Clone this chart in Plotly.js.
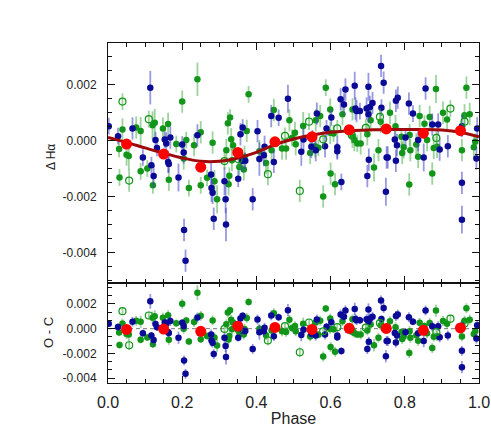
<!DOCTYPE html>
<html><head><meta charset="utf-8">
<script src="https://cdn.plot.ly/plotly-3.0.1.min.js"></script>
<style>html,body{margin:0;padding:0;background:#fff}#chart{width:491px;height:427px}</style>
</head><body><div id="chart"></div>
<script>
// Blue series (phase, delta H-alpha, error)
const bluePhase = [0.002,0.027,0.066,0.094,0.114,0.117,0.123,0.128,0.132,0.153,0.157,0.162,0.164,0.168,0.19,0.2,0.204,0.205,0.209,0.241,0.278,0.279,0.282,0.285,0.314,0.317,0.318,0.351,0.357,0.363,0.361,0.37,0.39,0.403,0.408,0.42,0.422,0.44,0.447,0.46,0.485,0.521,0.527,0.548,0.551,0.56,0.563,0.585,0.589,0.602,0.618,0.618,0.627,0.629,0.636,0.64,0.665,0.667,0.67,0.679,0.697,0.699,0.702,0.702,0.703,0.706,0.713,0.736,0.737,0.743,0.749,0.751,0.754,0.773,0.776,0.776,0.779,0.781,0.802,0.811,0.822,0.836,0.851,0.856,0.874,0.89,0.894,0.916,0.954,0.954,0.954,0.993,0.995];
const blueVal = [0.00052,0.00016,0.00044,-0.0006,0.0019,-0.00088,-0.00127,0.00002,-0.00026,0.00004,-0.0001,-0.00076,-0.00084,0.00011,-0.00132,-0.00014,-0.00042,-0.0032,-0.0043,0.00019,-0.00121,-0.0017,-0.00187,-0.0028,-0.00145,-0.0021,-0.003,-0.00136,0.00023,0.00047,-0.00072,-0.00072,-0.0021,0.00034,-0.00066,-0.00052,-0.00022,0.00088,-0.00076,0.00082,0.0015,-0.0004,0.00004,-0.00022,0.00008,-0.00034,0.00097,-0.0002,0.00044,0.00083,-0.00024,-0.00038,0.00148,-0.00148,0.0013,0.00183,0.00197,0.00115,0.00106,0.00106,0.00115,-0.00127,0.00193,0.00095,-0.00068,0.00121,0.00135,0.00268,0.00118,0.00208,-0.00183,-0.0006,-0.0006,0.00004,0.00143,-0.00072,-0.00016,0.00154,0.00011,0.00133,0.00097,0.00002,-0.0006,0.00187,0.00058,0.00058,-0.00032,-0.0002,0.00052,-0.00151,-0.00283,-0.00064,0.00044];
const blueErr = [0.0003,0.0003,0.0004,0.0003,0.0006,0.0003,0.0004,0.0003,0.0003,0.0003,0.0004,0.0004,0.0003,0.0004,0.0005,0.0003,0.0004,0.0004,0.0004,0.0004,0.0004,0.0005,0.0004,0.0004,0.0005,0.0005,0.0006,0.0003,0.0004,0.0003,0.0004,0.0003,0.0004,0.0004,0.0006,0.0004,0.0004,0.0004,0.0004,0.0003,0.0005,0.0005,0.0004,0.0004,0.0003,0.0004,0.0004,0.0004,0.0003,0.0003,0.0004,0.0003,0.0004,0.0003,0.0004,0.0004,0.0005,0.0004,0.0004,0.0003,0.0004,0.0004,0.0005,0.0003,0.0004,0.0004,0.0004,0.0004,0.0003,0.0004,0.0005,0.0004,0.0004,0.0003,0.0004,0.0004,0.0004,0.0004,0.0003,0.0004,0.0003,0.0004,0.0005,0.0004,0.0004,0.0004,0.0004,0.0004,0.0004,0.0004,0.0005,0.0004,0.0004];

// Green filled series
const greenPhase = [0.03,0.031,0.039,0.05,0.056,0.076,0.088,0.088,0.106,0.12,0.121,0.126,0.148,0.162,0.164,0.184,0.2,0.204,0.211,0.218,0.232,0.241,0.25,0.25,0.267,0.282,0.287,0.294,0.319,0.323,0.325,0.327,0.329,0.332,0.334,0.337,0.354,0.366,0.368,0.374,0.379,0.408,0.426,0.441,0.447,0.469,0.48,0.489,0.496,0.504,0.506,0.526,0.545,0.558,0.56,0.567,0.572,0.58,0.587,0.599,0.599,0.6,0.608,0.612,0.632,0.659,0.659,0.664,0.672,0.681,0.699,0.708,0.717,0.729,0.735,0.76,0.775,0.791,0.793,0.797,0.812,0.813,0.815,0.831,0.836,0.84,0.853,0.86,0.867,0.874,0.878,0.884,0.887,0.903,0.914,0.954,0.961,0.966,0.975,0.986,0.99];
const greenVal = [-0.0003,-0.00132,0.0004,-0.0005,-0.00055,0.00047,0.00035,-0.0011,-0.001,0.00055,-0.0016,0.00064,0.00044,0.0006,-0.0014,-0.00012,0.0014,-0.00064,0.00002,-0.0017,-0.00016,0.0022,0.0003,-0.0016,-0.00133,-0.00007,-0.00145,-0.0021,-0.00034,0.00062,-0.00156,-0.00126,0.00083,0.00005,-0.0007,-0.00016,-0.00094,-0.00103,-0.00058,0.00035,0.00166,-0.00038,-0.0008,-0.00034,0.0011,-0.00028,-0.00028,0.00073,0.0001,0.00028,-0.00013,0.00053,-0.00044,-0.0002,0.00073,-0.00025,0.00088,-0.002,0.0019,0.00112,0.00028,-0.00118,0.00026,-0.00156,0.00095,0.00112,0.00014,0.00002,-0.0001,-0.0001,0.00023,0.00073,-0.00096,-0.00034,0.00068,0.001,0.00052,0.00014,-0.00044,-0.00024,-0.00157,0.0002,-0.00034,-0.00014,-0.00058,0.00088,0.00061,0.00002,0.00085,-0.00118,-0.00026,0.00185,-0.00022,0.001,0.00076,-0.00034,0.00091,0.0019,0.00095,-0.00024,-0.00004];
const greenErr = [0.0003,0.0003,0.0004,0.0004,0.0005,0.0004,0.0005,0.0003,0.0003,0.0005,0.0003,0.0005,0.0004,0.0004,0.0004,0.0003,0.0004,0.0004,0.0003,0.0003,0.0004,0.0006,0.0004,0.0003,0.0003,0.0004,0.0004,0.0005,0.0004,0.0004,0.0004,0.0003,0.0003,0.0004,0.0004,0.0003,0.0003,0.0004,0.0004,0.0004,0.0003,0.0004,0.0004,0.0004,0.0004,0.0004,0.0004,0.0004,0.0003,0.0004,0.0004,0.0005,0.0004,0.0004,0.0004,0.0003,0.0004,0.0004,0.0003,0.0004,0.0004,0.0004,0.0003,0.0004,0.0004,0.0004,0.0004,0.0004,0.0003,0.0004,0.0004,0.0004,0.0005,0.0004,0.0004,0.0004,0.0004,0.0003,0.0004,0.0004,0.0004,0.0004,0.0004,0.0004,0.0004,0.0004,0.0003,0.0004,0.0004,0.0004,0.0004,0.0005,0.0004,0.0004,0.0004,0.0004,0.0004,0.0004,0.0004,0.0004,0.0003];

// Green open-circle series
const openPhase = [0.039,0.057,0.11,0.314,0.352,0.431,0.477,0.517,0.542,0.58,0.618,0.657,0.695,0.733,0.885,0.923,0.961];
const openVal = [0.0014,-0.00143,0.00077,-0.00073,-0.00067,-0.0012,0.00017,-0.0018,0.00068,0.00005,0.00044,0.0002,0.00046,0.00085,0.0001,0.00115,0.00068];
const openErr = [0.0003,0.0004,0.0003,0.0003,0.0003,0.0004,0.0003,0.0004,0.0003,0.0003,0.0003,0.0003,0.0003,0.0003,0.0003,0.0003,0.0003];

// Binned means (red)
const binPhase = [0.05,0.15,0.25,0.35,0.45,0.55,0.65,0.75,0.85,0.95];
const binVal = [-0.00012,-0.00048,-0.00095,-0.00042,-0.00004,0.00014,0.00039,0.00042,0.00027,0.00036];
const binErr = [0.0001,0.0001,0.00012,0.0001,0.0001,0.0001,0.0001,0.0001,0.0001,0.0001];

// Model curve (dark red)
const modelPhase = [0,0.05,0.1,0.15,0.2,0.25,0.3,0.35,0.4,0.45,0.5,0.55,0.6,0.65,0.7,0.75,0.8,0.85,0.9,0.95,1.0];
const modelVal = [0.00012,-0.00006,-0.00026,-0.00045,-0.00062,-0.00074,-0.00074,-0.00062,-0.00042,-0.00014,0.00006,0.0002,0.0003,0.00036,0.00038,0.0004,0.0004,0.0004,0.00038,0.0003,0.00014];

// Tick labels
const xTicks = [0,0.2,0.4,0.6,0.8,1.0];
const xTickText = ['0.0','0.2','0.4','0.6','0.8','1.0'];
const yTicks = [-0.004,-0.002,0,0.002];
const yTickText = ['-0.004','-0.002','0.000','0.002'];

function model(p){
  for(let i=0;i<modelPhase.length-1;i++){
    if(p>=modelPhase[i] && p<=modelPhase[i+1]){
      const t=(p-modelPhase[i])/(modelPhase[i+1]-modelPhase[i]);
      return modelVal[i]+t*(modelVal[i+1]-modelVal[i]);
    }
  }
  return modelVal[modelVal.length-1];
}
const resid = (ph, v) => v.map((y,i)=>y-model(ph[i]));

const BLUE='#0a0a96', GREEN='#12961a';
const BLUEERR='rgba(70,70,200,0.55)', GREENERR='rgba(60,170,60,0.5)';

function series(ph, v, err, xa, ya, color, ecol, open){
  return {x:ph, y:v, xaxis:xa, yaxis:ya, type:'scatter', mode:'markers', showlegend:false, hoverinfo:'skip',
    error_y:{type:'data', array:err, visible:true, color:ecol, thickness:1.8, width:0},
    marker: open ? {symbol:'circle-open', size:7, color:color, line:{width:1.2, color:color}} : {size:6.5, color:color}};
}

const traces = [
  series(greenPhase, greenVal, greenErr, 'x2','y', GREEN, GREENERR, false),
  series(bluePhase, blueVal, blueErr, 'x2','y', BLUE, BLUEERR, false),
  series(openPhase, openVal, openErr, 'x2','y', GREEN, GREENERR, true),
  {x:modelPhase, y:modelVal, xaxis:'x2', yaxis:'y', type:'scatter', mode:'lines', line:{color:'#9e0a0a', width:3, shape:'spline'}, showlegend:false, hoverinfo:'skip'},
  {x:binPhase, y:binVal, xaxis:'x2', yaxis:'y', type:'scatter', mode:'markers', marker:{size:11, color:'#ff0000'},
    error_y:{type:'data', array:binErr, color:'#ff2020', thickness:2, width:0}, showlegend:false, hoverinfo:'skip'},
  // residual panel
  {x:[0,1], y:[0,0], xaxis:'x', yaxis:'y2', type:'scatter', mode:'lines', line:{color:'#777', width:1, dash:'4px,3px'}, showlegend:false, hoverinfo:'skip'},
  series(greenPhase, resid(greenPhase, greenVal), greenErr, 'x','y2', GREEN, GREENERR, false),
  series(bluePhase, resid(bluePhase, blueVal), blueErr, 'x','y2', BLUE, BLUEERR, false),
  series(openPhase, resid(openPhase, openVal), openErr, 'x','y2', GREEN, GREENERR, true),
  {x:binPhase, y:resid(binPhase, binVal), xaxis:'x', yaxis:'y2', type:'scatter', mode:'markers', marker:{size:11, color:'#ff0000'}, showlegend:false, hoverinfo:'skip'}
];

const FONT = 'Liberation Sans, Arial, sans-serif';
const axBase = {showline:true, linecolor:'#111', linewidth:1, mirror:'ticks', ticks:'inside', ticklen:7, tickwidth:1, tickcolor:'#111', showgrid:false, zeroline:false};
const split = 100/340;
const plotW = 491-108-12;
const plotH = 427-43-44;

const layout = {
  width:491, height:427,
  margin:{l:108, r:12, t:43, b:44},
  paper_bgcolor:'#fff', plot_bgcolor:'#fff',
  font:{family:FONT, color:'#222'},
  xaxis: Object.assign({}, axBase, {range:[0,1], anchor:'y2', domain:[0,1], tickvals:xTicks, ticktext:xTickText,
    tickfont:{size:16}, ticklabelstandoff:5, minor:{dtick:0.05, tick0:0, ticks:'inside', ticklen:4, tickcolor:'#111'},
    title:{text:'Phase', font:{size:16}, standoff:4}}),
  xaxis2: Object.assign({}, axBase, {range:[0,1], anchor:'y', domain:[0,1], tickvals:xTicks, showticklabels:false,
    minor:{dtick:0.05, tick0:0, ticks:'inside', ticklen:4, tickcolor:'#111'}}),
  yaxis: Object.assign({}, axBase, {domain:[split,1], range:[-0.0051,0.0035], anchor:'x2', tickvals:yTicks, ticktext:yTickText,
    tickfont:{size:12}, ticklabelstandoff:8, minor:{dtick:0.0005, tick0:0, ticks:'inside', ticklen:4, tickcolor:'#111'}}),
  yaxis2: Object.assign({}, axBase, {domain:[0,split], range:[-0.0044,0.0037], anchor:'x', tickvals:yTicks, ticktext:yTickText,
    tickfont:{size:12}, ticklabelstandoff:8, minor:{dtick:0.002/3, tick0:0, ticks:'inside', ticklen:4, tickcolor:'#111'}}),
  annotations:[
    {text:'Δ Hα', xref:'paper', yref:'paper', x:(51-108)/plotW, y:(383-157)/plotH, textangle:-90, showarrow:false,
      xanchor:'center', yanchor:'middle', font:{size:12, color:'#222'}},
    {text:'O - C', xref:'paper', yref:'paper', x:(48-108)/plotW, y:split/2, textangle:-90, showarrow:false,
      xanchor:'center', yanchor:'middle', font:{size:13, color:'#222'}}
  ]
};

Plotly.newPlot('chart', traces, layout, {staticPlot:true, displayModeBar:false});
</script></body></html>
